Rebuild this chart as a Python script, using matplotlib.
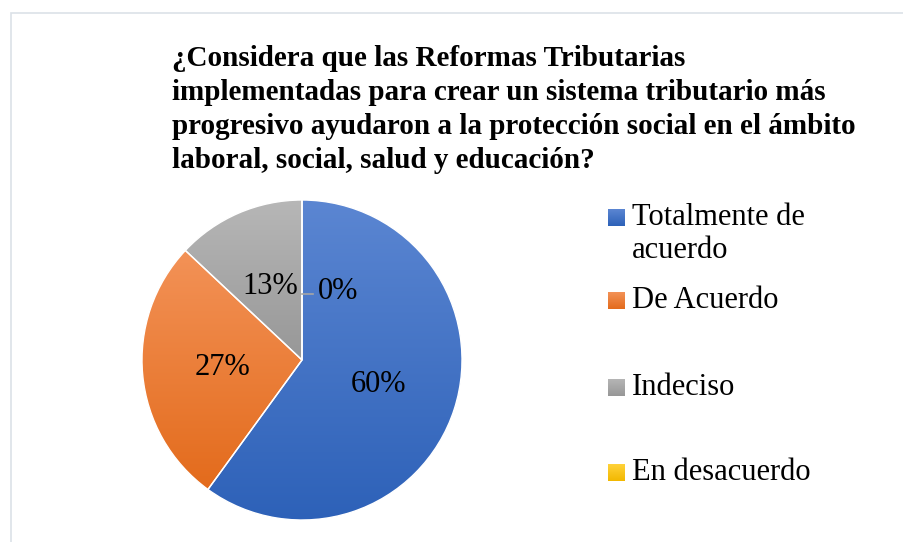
import matplotlib.pyplot as plt
import matplotlib.patches as mpatches
import matplotlib.colors as mcolors
import numpy as np

# --------- Datos ---------
titulo = ["¿Considera que las Reformas Tributarias",
          "implementadas para crear un sistema tributario más",
          "progresivo ayudaron a la protección social en el ámbito",
          "laboral, social, salud y educación?"]
categorias = [["Totalmente de", "acuerdo"], ["De Acuerdo"], ["Indeciso"], ["En desacuerdo"]]
porcentajes = [60, 27, 13, 0]
# colores degradados (arriba, abajo) como en Excel
colores = [("#5b86d2", "#2d61b8"),
           ("#f39257", "#e36b1c"),
           ("#b7b7b7", "#979797"),
           ("#ffd23a", "#f2b800")]
# -------------------------

W, H = 904, 542
FUENTE = ["Liberation Serif", "DejaVu Serif"]


def fx(px):
    return px / W


def fy(py):
    return 1 - py / H


def degradado(c_top, c_bot, n=256):
    a = np.array(mcolors.to_rgb(c_top))
    b = np.array(mcolors.to_rgb(c_bot))
    t = np.linspace(0, 1, n)[:, None]
    return (a * (1 - t) + b * t)[:, None, :]


fig = plt.figure(figsize=(W / 100, H / 100), dpi=100)

# borde del área del gráfico
fig.patches.append(mpatches.Rectangle((fx(11), -0.05), 1.0, fy(13) + 0.05,
                                      transform=fig.transFigure, fill=False,
                                      edgecolor="#dce1e8", linewidth=1.2))

# título, una línea cada 34 px
for i, linea in enumerate(titulo):
    fig.text(fx(172), fy(66 + 34 * i), linea, ha="left", va="baseline",
             fontsize=21, fontweight="bold", family=FUENTE)

# pastel: centro (302, 360), radio 160 px
ax = fig.add_axes([fx(142), fy(520), 320 / W, 320 / H])
wedges, _, autotextos = ax.pie(porcentajes, startangle=90, counterclock=False,
                               radius=1.0, autopct="%.0f%%", pctdistance=0.5,
                               wedgeprops=dict(facecolor="none", edgecolor="white",
                                               linewidth=1.0, zorder=3),
                               textprops=dict(fontsize=22, family=FUENTE, zorder=5))
for w, (ct, cb) in zip(wedges, colores):
    verts = w.get_path().vertices
    if len(verts) == 0:
        continue
    y0, y1 = verts[:, 1].min(), verts[:, 1].max()
    x0, x1 = verts[:, 0].min(), verts[:, 0].max()
    if y1 - y0 < 1e-6 or x1 - x0 < 1e-6:
        continue
    im = ax.imshow(degradado(ct, cb), extent=(x0, x1, y0, y1), origin="upper",
                   aspect="auto", zorder=2, interpolation="bilinear")
    im.set_clip_path(w)

# etiqueta del 0 % desplazada con línea guía
w0 = wedges[3]
ang = np.deg2rad(w0.theta1)
ax0, ay0 = 0.41 * np.cos(ang), 0.41 * np.sin(ang)
ax.plot([ax0, ax0 + 0.07], [ay0, ay0], color="#a6a6a6", lw=1.2, zorder=4)
autotextos[3].set_position((ax0 + 0.1, ay0 + 0.02))
autotextos[3].set_ha("left")
ax.set_xlim(-1, 1)
ax.set_ylim(-1, 1)
ax.set_aspect("equal")
ax.axis("off")

# leyenda manual (espaciado igual como en Excel)
base_y = [225, 308, 395, 480]
for cat, (ct, cb), by in zip(categorias, colores, base_y):
    lax = fig.add_axes([fx(608), fy(by + 1), 17 / W, 17 / H])
    lax.imshow(degradado(ct, cb), aspect="auto", extent=(0, 1, 0, 1))
    lax.axis("off")
    for j, linea in enumerate(cat):
        fig.text(fx(632), fy(by + 33 * j), linea, ha="left", va="baseline",
                 fontsize=22, family=FUENTE)

fig.savefig("out.png", dpi=100)
